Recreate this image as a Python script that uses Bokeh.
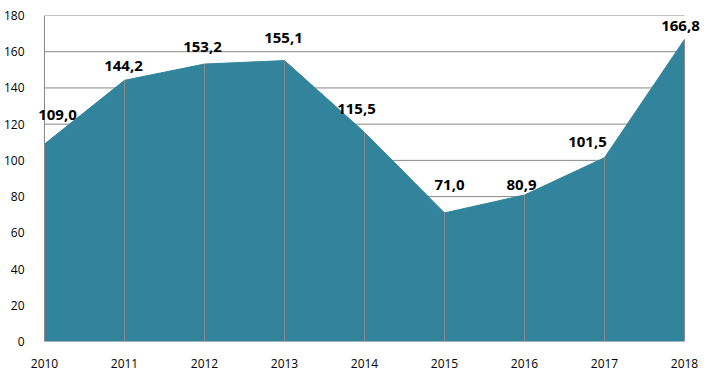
from bokeh.plotting import figure
from bokeh.models import ColumnDataSource, LabelSet, FixedTicker, Range1d
from bokeh.core.properties import value
from bokeh.embed import file_html
from bokeh.resources import INLINE

years = [2010, 2011, 2012, 2013, 2014, 2015, 2016, 2017, 2018]
values = [109.0, 144.2, 153.2, 155.1, 115.5, 71.0, 80.9, 101.5, 166.8]
value_labels = ["109,0", "144,2", "153,2", "155,1", "115,5", "71,0", "80,9", "101,5", "166,8"]
y_ticks = [0, 20, 40, 60, 80, 100, 120, 140, 160, 180]

# label placement tweaks (screen pixels), kept apart from the data
label_dx = [13, -1, -2, -1, -8, 5, -3, -17, -4]
label_dy = [29, 14, 17, 23, 23, 28, 10, 16, 13]

FILL = "#31849B"
GRID = "#888888"
FONT = "Open Sans"

src = ColumnDataSource(dict(x=years, y=values, zero=[0] * len(years), lbl=value_labels,
                            dx=label_dx, dy=label_dy))

n = len(y_ticks)
grid_src = ColumnDataSource(dict(x0=[years[0]] * n, x1=[years[-1]] * n, y=y_ticks))

# frame extends a little beyond the first/last year so that labels are not clipped
p = figure(frame_width=668, frame_height=326, output_backend="svg", toolbar_location=None,
           x_range=Range1d(years[0] - 0.1, years[-1] + 0.25), y_range=Range1d(0, 180),
           min_border_left=27, min_border_right=0, min_border_top=15, min_border_bottom=28)
p.outline_line_color = None
p.background_fill_color = "white"
p.xgrid.grid_line_color = None
p.ygrid.grid_line_color = None

# horizontal gridlines and left axis line, limited to the category span
p.segment(x0="x0", y0="y", x1="x1", y1="y", source=grid_src, line_color=GRID, line_width=1)
p.segment(x0=[years[0]], y0=[y_ticks[0]], x1=[years[0]], y1=[y_ticks[-1]],
          line_color=GRID, line_width=1)

p.varea(x="x", y1="zero", y2="y", source=src, fill_color=FILL)
p.line(x="x", y="y", source=src, line_color=FILL, line_width=1)
p.segment(x0="x", y0="zero", x1="x", y1="y", source=src, line_color="#8a8a8a", line_width=1)

labels = LabelSet(x="x", y="y", text="lbl", source=src, x_offset="dx", y_offset="dy",
                  text_align="center", text_baseline="middle", text_font=value(FONT),
                  text_font_style="bold", text_font_size="15px", text_color="black")
p.add_layout(labels)

p.xaxis.ticker = FixedTicker(ticks=years)
p.yaxis.ticker = FixedTicker(ticks=y_ticks)
for ax in (p.xaxis[0], p.yaxis[0]):
    ax.axis_line_color = None
    ax.major_tick_line_color = None
    ax.minor_tick_line_color = None
    ax.major_label_text_font = FONT
    ax.major_label_text_font_size = "12px"
    ax.major_label_text_color = "black"
p.xaxis.major_label_standoff = 11
p.yaxis.major_label_standoff = 6

open("out.html", "w").write(file_html(p, INLINE))
